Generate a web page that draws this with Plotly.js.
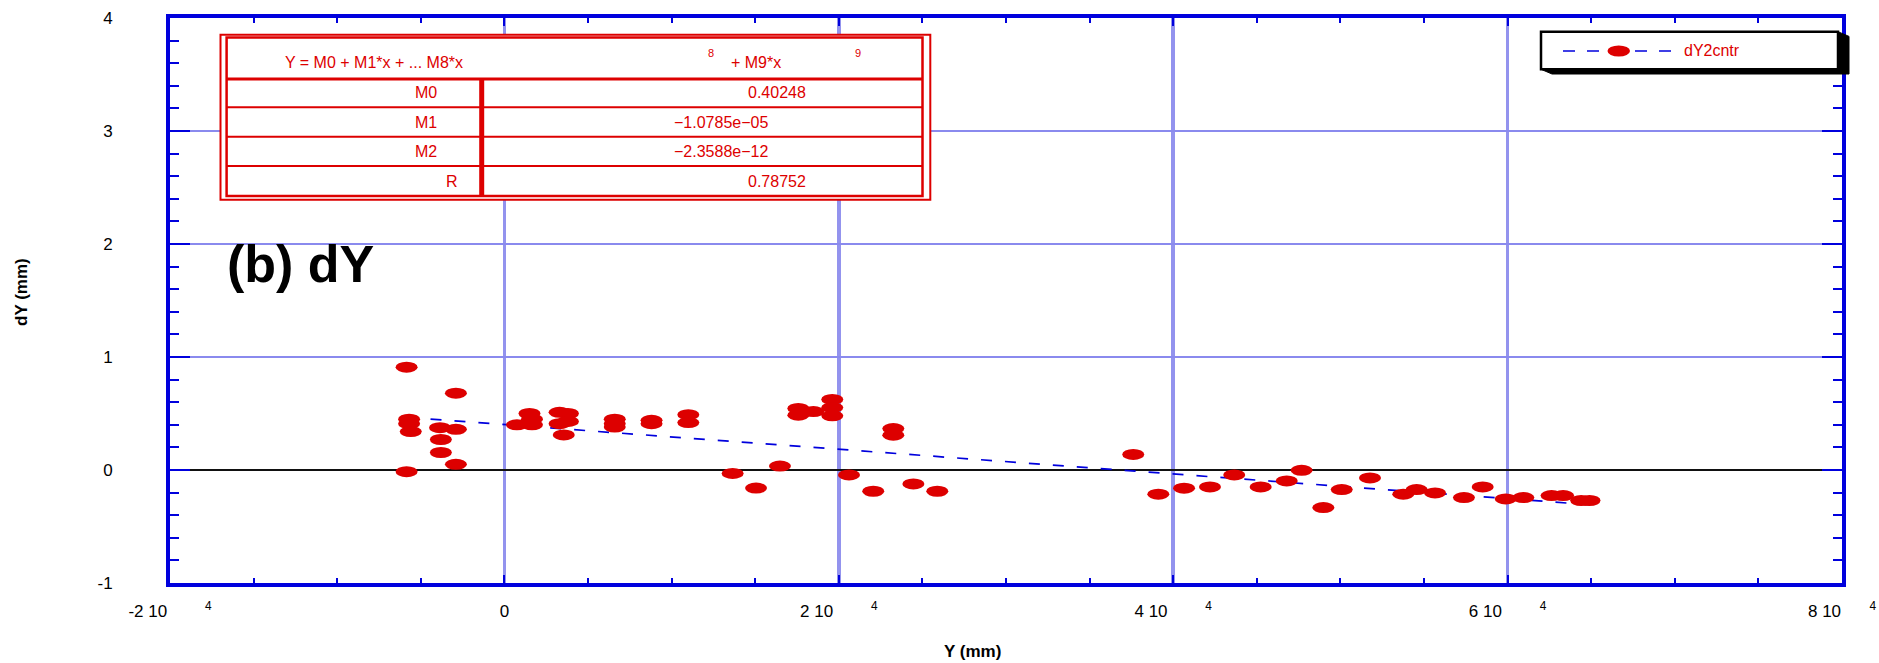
<!DOCTYPE html>
<html>
<head>
<meta charset="utf-8">
<script src="https://cdn.plot.ly/plotly-3.0.1.min.js"></script>
<style>html,body{margin:0;padding:0;background:#fff;}#chart{width:1879px;height:663px;}</style>
</head>
<body>
<div id="chart"></div>
<script>
// ---- data ----
const ptX = [-5850, -5700, -5700, -5600, -5850,
  -2900, -3850, -2900, -3800, -3800, -2900,
  750, 1500, 1650, 1650,
  3300, 3800, 3300, 3800, 3550,
  6600, 6600, 6600, 8800, 8800, 11000, 11000,
  13650, 15050, 16480, 17580, 17580, 18480, 19610, 19610, 19610,
  20610, 22060, 23260, 23260, 24460, 25890,
  37610, 39110, 40650, 42200, 43650, 45230, 46790, 47680, 48980, 50080, 51770,
  53760, 54560, 55660, 57390, 58510, 59890, 60940, 62630, 63320, 64400, 64900];
const ptY = [0.91, 0.45, 0.41, 0.34, -0.015,
  0.68, 0.375, 0.36, 0.27, 0.155, 0.05,
  0.40, 0.50, 0.45, 0.40,
  0.51, 0.50, 0.41, 0.43, 0.31,
  0.45, 0.41, 0.38, 0.44, 0.41, 0.49, 0.42,
  -0.03, -0.16, 0.035, 0.545, 0.485, 0.517, 0.625, 0.552, 0.479,
  -0.044, -0.188, 0.367, 0.308, -0.123, -0.188,
  0.138, -0.214, -0.161, -0.150, -0.044, -0.150, -0.097, -0.003, -0.332, -0.173, -0.07,
  -0.214, -0.173, -0.203, -0.244, -0.150, -0.256, -0.244, -0.226, -0.226, -0.27, -0.27];
const fitX = [-5850, -2900, 0, 3500, 6600, 11000, 16500, 19600, 23300, 25900, 37600, 40600, 45200, 50100, 55700, 60900, 64900];
const fitY = [0.466, 0.434, 0.402, 0.364, 0.331, 0.283, 0.223, 0.189, 0.150, 0.122, -0.006, -0.039, -0.090, -0.144, -0.206, -0.263, -0.307];
const seriesName = 'dY2cntr';
const xTickVals = [-20000, 0, 20000, 40000, 60000, 80000];
const xTickBase = ['-2 10', '0', '2 10', '4 10', '6 10', '8 10'];
const xTickExp = ['4', '', '4', '4', '4', '4'];
const yTickVals = [-1, 0, 1, 2, 3, 4];
const yTickText = ['-1', '0', '1', '2', '3', '4'];
const fitEquation = 'Y = M0 + M1*x + ... M8*x';
const fitEquation2 = '+ M9*x';
const fitNames = ['M0', 'M1', 'M2', 'R'];
const fitValues = ['0.40248', '\u22121.0785e\u221205', '\u22122.3588e\u221212', '0.78752'];
const panelLabel = '(b) dY';
const xTitle = 'Y (mm)';
const yTitle = 'dY (mm)';

// ---- layout geometry ----
const W = 1879, H = 663;
const L = 170, R = 1842, T = 18, B = 583;
const px = v => (v - L) / (R - L);
const py = v => (B - v) / (B - T);
const RED = '#dd0000', BLUE = '#0000dd';
const FONT = 'Liberation Sans, Arial, Helvetica, sans-serif';

const xTickText = xTickBase.map((b, i) => {
  if (!xTickExp[i]) return b;
  const gap = i === xTickBase.length - 1 ? 6 : 8;   // keep the last exponent inside the page
  return b + '\u00a0'.repeat(gap) + '<sup>' + xTickExp[i] + '</sup>';
});

const traces = [
  {x: fitX, y: fitY, type: 'scatter', mode: 'lines', name: seriesName + ' fit',
   line: {color: BLUE, width: 1.7, dash: '11px,13px'}, hoverinfo: 'skip', showlegend: false},
  {x: ptX, y: ptY, type: 'scatter', mode: 'markers', name: seriesName,
   marker: {color: RED, size: 11, symbol: 'circle', line: {width: 0}}, showlegend: false}
];

const shapes = [];
const ann = [];
function rect(x0, y0, x1, y1, lineColor, lw, fill) {
  shapes.push({type: 'rect', xref: 'paper', yref: 'paper', x0: px(x0), x1: px(x1), y0: py(y0), y1: py(y1),
    line: {color: lineColor, width: lw}, fillcolor: fill || 'rgba(0,0,0,0)', layer: 'above'});
}
function seg(x0, y0, x1, y1, color, lw, dash) {
  shapes.push({type: 'line', xref: 'paper', yref: 'paper', x0: px(x0), x1: px(x1), y0: py(y0), y1: py(y1),
    line: {color: color, width: lw, dash: dash || 'solid'}, layer: 'above'});
}
function txt(text, x, y, size, color, xanchor, opts) {
  ann.push(Object.assign({text: text, xref: 'paper', yref: 'paper', x: px(x), y: py(y), showarrow: false,
    xanchor: xanchor || 'center', yanchor: 'middle', font: {family: FONT, size: size, color: color || '#000'}}, opts || {}));
}

// fit table
rect(220.5, 34.8, 930.3, 199.7, RED, 2, '#ffffff');
rect(226.6, 37.5, 922.5, 196, RED, 2.5);
seg(226.6, 79, 922.5, 79, RED, 3);
const rowLines = [107.3, 136.7, 166];
rowLines.forEach(y => seg(226.6, y, 922.5, y, RED, 2));
seg(481.7, 79, 481.7, 196, RED, 5);
txt(fitEquation, 283, 62, 16, RED, 'left');
txt('8', 711, 52.5, 11, RED, 'center');
txt(fitEquation2, 729, 62, 16, RED, 'left');
txt('9', 858, 52.5, 11, RED, 'center');
const rowCenters = [92, 122, 151.5, 181.5];
const nameX = [425.5, 425.5, 425.5, 451.5];
const valX = [776.7, 671.7, 671.7, 776.7];
const valAnchor = ['center', 'left', 'left', 'center'];
fitNames.forEach((n, i) => {
  txt(n, nameX[i], rowCenters[i], 16, RED, 'center');
  txt(fitValues[i], valX[i], rowCenters[i], 16, RED, valAnchor[i]);
});

// legend (custom, with 3D shadow)
const lx0 = 1541, ly0 = 31.7, lx1 = 1838, ly1 = 69.3, sdx = 11, sdy = 4.7;
shapes.push({type: 'path', xref: 'paper', yref: 'paper', layer: 'above', fillcolor: '#000', line: {color: '#000', width: 1},
  path: `M ${px(lx1)} ${py(ly0)} L ${px(lx1 + sdx)} ${py(ly0 + sdy)} L ${px(lx1 + sdx)} ${py(ly1 + sdy)} L ${px(lx0 + sdx)} ${py(ly1 + sdy)} L ${px(lx0)} ${py(ly1)} Z`});
rect(lx0, ly0, lx1, ly1, '#000', 2.5, '#ffffff');
seg(1563, 51, 1671, 51, BLUE, 1.7, '12px,12px');
shapes.push({type: 'circle', xref: 'paper', yref: 'paper', layer: 'above', x0: px(1607.5), x1: px(1630), y0: py(45.5), y1: py(56.5),
  fillcolor: RED, line: {width: 0}});
txt(seriesName, 1681.5, 51, 16, RED, 'left');

// panel label and axis titles
txt(panelLabel, 225, 264, 52, '#000', 'left', {font: {family: FONT, size: 52, color: '#000', weight: 'bold'}});
txt('<b>' + xTitle + '</b>', 972, 651, 17, '#000', 'center');
txt('<b>' + yTitle + '</b>', 21, 292, 17, '#000', 'center', {textangle: -90});

const layout = {
  width: W, height: H,
  margin: {l: L, r: W - R, t: T, b: H - B, pad: 0},
  paper_bgcolor: '#fff', plot_bgcolor: '#fff',
  showlegend: false,
  font: {family: FONT, color: '#000', size: 17},
  xaxis: {
    range: [-20000, 80000], automargin: false,
    tickmode: 'array', tickvals: xTickVals, ticktext: xTickText,
    ticks: 'inside', ticklen: 8, tickwidth: 2, tickcolor: BLUE,
    ticklabelstandoff: 10, ticklabeloverflow: 'allow',
    tickfont: {family: FONT, size: 17, color: '#000'},
    showline: true, linecolor: BLUE, linewidth: 4, mirror: 'ticks',
    showgrid: true, gridcolor: '#9393ee', gridwidth: 3.5,
    zeroline: false,
    minor: {dtick: 5000, tick0: 0, ticks: 'inside', ticklen: 5, tickwidth: 2, tickcolor: BLUE, showgrid: false}
  },
  yaxis: {
    range: [-1, 4], automargin: false,
    tickmode: 'array', tickvals: yTickVals, ticktext: yTickText,
    ticks: 'inside', ticklen: 20, tickwidth: 2, tickcolor: BLUE,
    ticklabelstandoff: 50, ticklabeloverflow: 'allow',
    tickfont: {family: FONT, size: 17, color: '#000'},
    showline: true, linecolor: BLUE, linewidth: 4, mirror: 'ticks',
    showgrid: true, gridcolor: '#8a8aee', gridwidth: 2.5,
    zeroline: true, zerolinecolor: '#111111', zerolinewidth: 2.5,
    minor: {dtick: 0.2, tick0: 0, ticks: 'inside', ticklen: 9, tickwidth: 2, tickcolor: BLUE, showgrid: false}
  },
  shapes: shapes,
  annotations: ann
};

Plotly.newPlot('chart', traces, layout, {staticPlot: true, responsive: false, displayModeBar: false}).then(gd => {
  // draw the markers as horizontal ellipses, as in the reference
  const ell = 'M11,0A11,5.5 0 1,1 -11,0A11,5.5 0 1,1 11,0Z';
  gd.querySelectorAll('.scatterlayer path.point').forEach(p => p.setAttribute('d', ell));
});
</script>
</body>
</html>
